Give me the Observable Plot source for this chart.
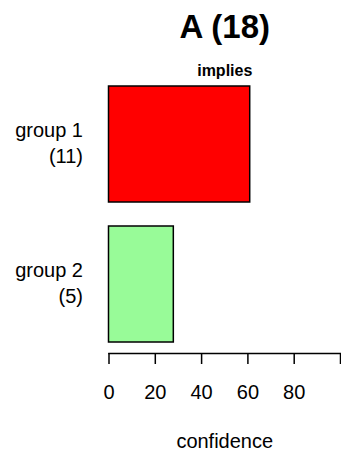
<!DOCTYPE html>
<html>
<head>
<meta charset="utf-8">
<script src="https://cdn.jsdelivr.net/npm/d3@7"></script>
<script src="https://cdn.jsdelivr.net/npm/@observablehq/plot@0.6"></script>
<style>
  html, body { margin: 0; padding: 0; background: white; }
</style>
</head>
<body>
<div id="chart"></div>
<script>
const groups = ["group 1\n(11)", "group 2\n(5)"];
const confidence = [61, 28];
const fills = ["#ff0000", "#98fb98"];
const xTicks = [0, 20, 40, 60, 80, 100];
const title = "A (18)";
const subtitle = "implies";
const xLabel = "confidence";

const data = groups.map((g, i) => ({g, v: confidence[i], fill: fills[i]}));

const chart = Plot.plot({
  width: 341,
  height: 453,
  marginLeft: 108.5,
  marginRight: 1,
  marginTop: 86,
  marginBottom: 111,
  x: {domain: [0, 100]},
  y: {domain: groups, paddingInner: 24 / 140, paddingOuter: 0, axis: null},
  color: {type: "identity"},
  style: {fontFamily: "'Liberation Sans', Arial, sans-serif", fontSize: "20px", color: "black", background: "white"},
  marks: [
    Plot.barX(data, {x: "v", y: "g", fill: "fill", stroke: "black", strokeWidth: 1.5}),
    Plot.frame({anchor: "bottom", dy: 11, strokeWidth: 1.5, stroke: "black"}),
    Plot.axisX({ticks: xTicks, tickSize: 11, dy: 11, tickPadding: 20, tickFormat: d => d === 100 ? "" : String(d), label: null, strokeWidth: 1.5, fontSize: 20}),
    Plot.text(data, {x: 0, y: "g", text: "g", dx: -26, dy: -3, textAnchor: "end", lineAnchor: "middle", lineHeight: 1.3, fontSize: 20}),
    Plot.text([title], {frameAnchor: "top", dy: -59.5, lineAnchor: "middle", fontWeight: "bold", fontSize: 33}),
    Plot.text([subtitle], {frameAnchor: "top", dy: -15.5, lineAnchor: "middle", fontWeight: "bold", fontSize: 16}),
    Plot.text([xLabel], {frameAnchor: "bottom", dy: 99, lineAnchor: "middle", fontSize: 20})
  ]
});
document.getElementById("chart").appendChild(chart);
</script>
</body>
</html>
